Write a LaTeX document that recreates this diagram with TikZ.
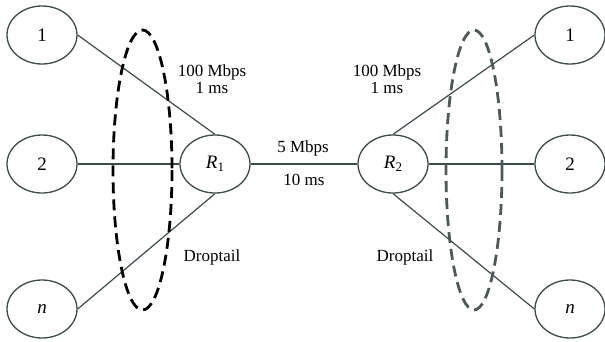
\documentclass[tikz,border=0pt]{standalone}
\usepackage{fontspec}
\setmainfont{Liberation Serif}
\usepackage{tikz}
\usetikzlibrary{positioning, calc, shapes}
\newcommand{\rname}[1]{\textit{R}\raisebox{-0.35ex}{\fontsize{13}{13}\selectfont #1}}
\definecolor{grisito}{RGB}{62,74,74}
\definecolor{grisclaro}{RGB}{78,88,88}
\tikzset{>=stealth,
  hoja/.style={draw=grisito, line width=1.3pt, ellipse, minimum width=70pt,
    minimum height=58pt, inner sep=0pt, font=\fontsize{19}{21}\selectfont},
  enlace/.style={grisito, line width=1.2pt},
  cola/.style={line width=2.8pt, dash pattern=on 11pt off 6pt}}

\begin{document}
\begin{tikzpicture}[x=1pt, y=-1pt, font=\fontsize{17}{17}\selectfont]
    \useasboundingbox (0,0) rectangle (605,341);
    % left hosts
    \node[hoja] (l1) at (42,35) {1};
    \node[hoja] (l2) at (42,164) {2};
    \node[hoja] (ln) at (42,309) {\textit{n}};
    % routers
    \node[hoja] (r1) at (215,164) {\rname{1}};
    \node[hoja] (r2) at (393,164) {\rname{2}};
    % right hosts
    \node[hoja] (d1) at (570,35) {1};
    \node[hoja] (d2) at (570,164) {2};
    \node[hoja] (dn) at (570,309) {\textit{n}};
    % access links
    \draw[enlace] (l1.east) -- (r1.north);
    \draw[enlace] (l2.east) -- (r1.west);
    \draw[enlace] (ln.east) -- (r1.south);
    \draw[enlace] (r2.north) -- (d1.west);
    \draw[enlace] (r2.east) -- (d2.west);
    \draw[enlace] (r2.south) -- (dn.west);
    % bottleneck
    \draw[enlace] (r1.east) -- (r2.west);
    % queues
    \draw[cola, black] (142.5,170) ellipse [x radius=29.5, y radius=140];
    \draw[cola, grisclaro] (474,170) ellipse [x radius=28, y radius=140];
    % labels
    \node[align=center] (bwi) at (212,79.5) {100 Mbps\\1 ms};
    \node[align=center] (bwd) at (387,79.5) {100 Mbps\\1 ms};
    \node (bwc) at (303,148) {5 Mbps};
    \node (dlc) at (304,180) {10 ms};
    \node (dti) at (212,257) {Droptail};
    \node (dtd) at (405,257) {Droptail};
\end{tikzpicture}
\end{document}
